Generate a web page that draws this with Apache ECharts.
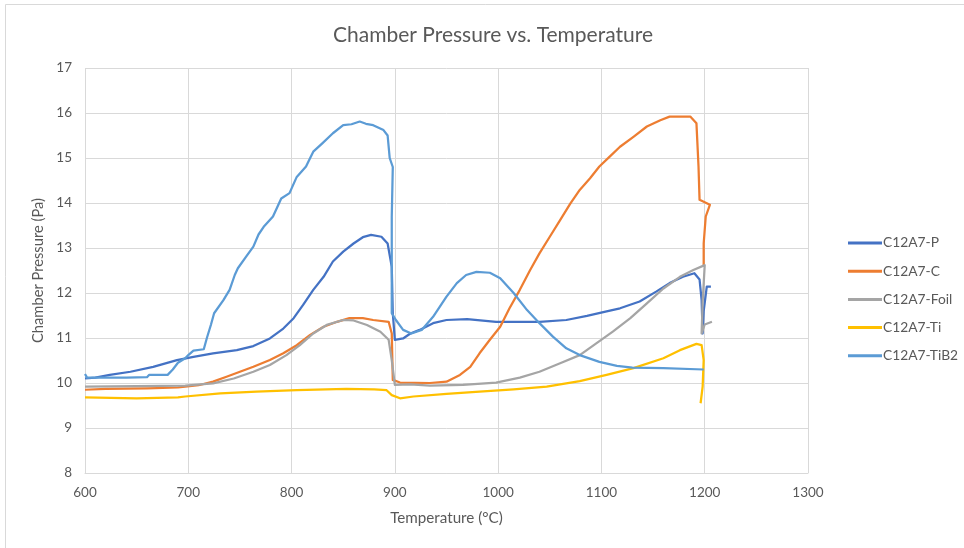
<!DOCTYPE html>
<html>
<head>
<meta charset="utf-8">
<script src="https://cdn.jsdelivr.net/npm/echarts@6/dist/echarts.min.js"></script>
<style>
  html, body { margin: 0; padding: 0; background: #fff; }
  #chart { width: 964px; height: 548px; }
</style>
</head>
<body>
<div id="chart"></div>
<script>
// Chamber pressure (Pa) logged against temperature (°C) for each sample, as [T, P]
const seriesNames = ['C12A7-P', 'C12A7-C', 'C12A7-Foil', 'C12A7-Ti', 'C12A7-TiB2'];
const seriesColors = ['#4472C4', '#ED7D31', '#A5A5A5', '#FFC000', '#5B9BD5'];

const dataP = [
  [600,10.1],[610,10.12],[624,10.18],[644,10.25],[666,10.36],[689,10.51],[705,10.58],[724,10.66],
  [747,10.73],[763,10.82],[779,10.99],[792,11.21],[802,11.44],[811,11.73],[821,12.07],[831,12.36],
  [840,12.7],[850,12.92],[860,13.1],[869,13.24],[877,13.29],[887,13.25],[893,13.1],[897,12.58],
  [898,11.55],[900,10.96],[908,10.99],[915,11.1],[924,11.18],[937,11.33],[950,11.4],[970,11.42],
  [998,11.36],[1040,11.36],[1066,11.4],[1086,11.49],[1105,11.59],[1118,11.66],[1137,11.81],
  [1153,12.03],[1166,12.22],[1179,12.36],[1190,12.44],[1195,12.3],[1197,11.84],[1198,11.1],
  [1199,11.6],[1202,12.14],[1206,12.14]
];

const dataC = [
  [600,9.85],[620,9.87],[660,9.88],[690,9.9],[697,9.92],[710,9.95],[724,10.03],[737,10.14],
  [750,10.25],[763,10.36],[779,10.51],[792,10.66],[805,10.84],[818,11.07],[831,11.25],[844,11.36],
  [856,11.44],[869,11.44],[879,11.4],[894,11.36],[897,11.1],[898,10.07],[905,10.01],[934,10.0],
  [950,10.03],[963,10.18],[973,10.36],[982,10.66],[992,10.96],[1002,11.25],[1011,11.66],[1021,12.07],
  [1031,12.51],[1040,12.88],[1050,13.25],[1060,13.62],[1070,13.99],[1079,14.29],[1089,14.55],
  [1098,14.81],[1108,15.03],[1118,15.25],[1131,15.47],[1144,15.7],[1157,15.84],[1166,15.92],
  [1186,15.92],[1192,15.77],[1194,14.81],[1195,14.07],[1205,13.96],[1201,13.7],[1199,13.1],[1199,12.58]
];

const dataFoil = [
  [600,9.92],[650,9.93],[697,9.94],[724,9.99],[744,10.1],[763,10.25],[779,10.4],[795,10.62],
  [808,10.84],[821,11.1],[834,11.29],[850,11.4],[860,11.39],[873,11.29],[886,11.14],[894,10.96],
  [897,10.51],[900,9.96],[915,9.97],[934,9.94],[966,9.96],[998,10.01],[1021,10.12],[1040,10.25],
  [1060,10.44],[1079,10.62],[1095,10.88],[1111,11.14],[1128,11.44],[1144,11.77],[1160,12.1],
  [1176,12.36],[1189,12.51],[1200,12.62],[1198,11.8],[1197,11.1],[1200,11.3],[1207,11.36]
];

const dataTi = [
  [600,9.68],[650,9.66],[690,9.68],[697,9.7],[731,9.77],[766,9.81],[805,9.84],[853,9.87],
  [880,9.86],[892,9.84],[897,9.73],[905,9.66],[918,9.7],[950,9.76],[982,9.81],[1015,9.86],
  [1047,9.92],[1079,10.04],[1105,10.18],[1131,10.33],[1160,10.55],[1176,10.73],[1192,10.87],
  [1197,10.84],[1199,10.51],[1198,9.92],[1196,9.55]
];

const dataTiB2 = [
  [600,10.2],[602,10.12],[620,10.12],[640,10.12],[660,10.13],[662,10.18],[680,10.18],[685,10.3],
  [690,10.45],[697,10.55],[700,10.62],[705,10.72],[715,10.75],[718,11.0],[722,11.3],[725,11.55],
  [734,11.84],[740,12.07],[745,12.4],[748,12.55],[756,12.81],[763,13.03],[768,13.3],[773,13.47],
  [782,13.7],[786,13.9],[790,14.1],[798,14.22],[805,14.58],[814,14.81],[818,15.0],[821,15.14],
  [830,15.33],[840,15.55],[850,15.73],[858,15.75],[866,15.81],[872,15.76],[879,15.73],[889,15.62],
  [893,15.5],[895,15.0],[898,14.8],[897,13.7],[897,12.6],[897,11.55],[901,11.4],[908,11.18],
  [916,11.1],[926,11.18],[937,11.47],[950,11.92],[960,12.22],[969,12.4],[979,12.47],[992,12.45],
  [1002,12.33],[1015,12.0],[1028,11.62],[1040,11.33],[1053,11.03],[1066,10.77],[1079,10.62],
  [1098,10.47],[1115,10.38],[1130,10.34],[1160,10.33],[1199,10.3]
];

const seriesData = [dataP, dataC, dataFoil, dataTi, dataTiB2];

const xMin = 600, xMax = 1300, xStep = 100;
const yMin = 8, yMax = 17, yStep = 1;

const textColor = '#595959';
const gridColor = '#D9D9D9';
const fontFamily = 'Lato, "Open Sans", sans-serif';

const chart = echarts.init(document.getElementById('chart'), null, { renderer: 'canvas' });

chart.setOption({
  backgroundColor: '#fff',
  animation: false,
  title: {
    text: 'Chamber Pressure vs. Temperature',
    left: 488,
    textAlign: 'center',
    top: 20,
    textStyle: { color: textColor, fontFamily: fontFamily, fontSize: 21, fontWeight: 'normal' }
  },
  graphic: [{
    type: 'rect',
    shape: { x: 5.5, y: 4.5, width: 1000, height: 1000 },
    style: { fill: 'none', stroke: gridColor, lineWidth: 1 },
    silent: true
  }],
  legend: {
    orient: 'vertical',
    left: 843,
    top: 230,
    itemWidth: 34,
    itemHeight: 3,
    itemGap: 12.2,
    icon: 'rect',
    textStyle: { color: textColor, fontFamily: fontFamily, fontSize: 13.8, lineHeight: 16, padding: [0, 0, 0, -4] },
    data: seriesNames
  },
  grid: { left: 85, right: 156, top: 68, bottom: 75, containLabel: false },
  xAxis: {
    type: 'value',
    min: xMin, max: xMax, interval: xStep,
    name: 'Temperature (°C)',
    nameLocation: 'middle',
    nameGap: 38,
    nameTextStyle: { color: textColor, fontFamily: fontFamily, fontSize: 15.2 },
    axisLine: { show: true, lineStyle: { color: gridColor, width: 1 } },
    axisTick: { show: false },
    axisLabel: { color: textColor, fontFamily: fontFamily, fontSize: 13.5, margin: 13, formatter: v => String(v) },
    splitLine: { show: true, lineStyle: { color: gridColor, width: 1 } }
  },
  yAxis: {
    type: 'value',
    min: yMin, max: yMax, interval: yStep,
    name: 'Chamber Pressure (Pa)',
    nameLocation: 'middle',
    nameGap: 36,
    nameTextStyle: { color: textColor, fontFamily: fontFamily, fontSize: 14.7 },
    axisLine: { show: false },
    axisTick: { show: false },
    axisLabel: { color: textColor, fontFamily: fontFamily, fontSize: 13.5, margin: 13, formatter: v => String(v) },
    splitLine: { show: true, lineStyle: { color: gridColor, width: 1 } }
  },
  series: seriesNames.map((name, i) => ({
    name: name,
    type: 'line',
    data: seriesData[i],
    showSymbol: false,
    symbol: 'none',
    smooth: false,
    clip: false,
    color: seriesColors[i],
    lineStyle: { color: seriesColors[i], width: 2.25, join: 'round' },
    z: 2 + i
  }))
});
</script>
</body>
</html>
